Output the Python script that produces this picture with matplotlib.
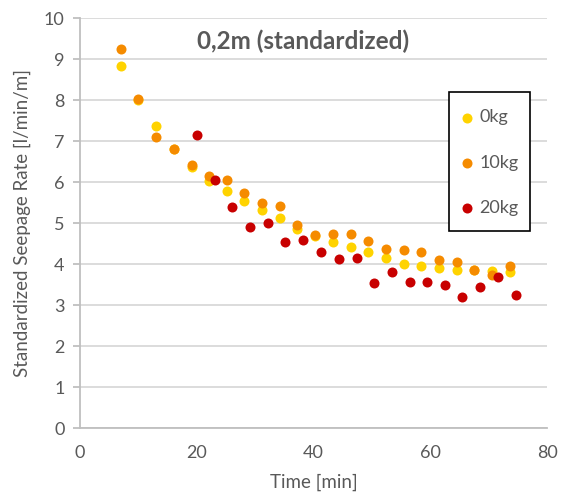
import matplotlib
matplotlib.use('Agg')
import matplotlib.pyplot as plt
from matplotlib.patches import Rectangle

plt.rcParams['font.family'] = ['Lato', 'DejaVu Sans']

# data
time_0kg = [6.95, 9.98, 13.07, 16.09, 19.13, 22.16, 25.18, 28.16, 31.18, 34.22, 37.25, 40.27,
            43.3, 46.35, 49.37, 52.4, 55.44, 58.46, 61.49, 64.53, 67.5, 70.58, 73.62]
rate_0kg = [8.84, 8.0, 7.37, 6.82, 6.38, 6.03, 5.78, 5.55, 5.32, 5.13, 4.85, 4.68,
            4.54, 4.43, 4.29, 4.15, 4.01, 3.96, 3.90, 3.85, 3.85, 3.84, 3.82]
time_10kg = time_0kg
rate_10kg = [9.24, 8.03, 7.10, 6.82, 6.41, 6.16, 6.05, 5.75, 5.50, 5.41, 4.96, 4.72,
             4.74, 4.74, 4.58, 4.37, 4.36, 4.29, 4.10, 4.06, 3.86, 3.73, 3.95]
time_20kg = [20.03, 23.07, 26.1, 29.12, 32.16, 35.2, 38.28, 41.3, 44.34, 47.38, 50.39,
             53.43, 56.47, 59.43, 62.47, 65.49, 68.52, 71.61, 74.65]
rate_20kg = [7.15, 6.06, 5.39, 4.90, 5.00, 4.54, 4.60, 4.30, 4.12, 4.15, 3.55,
             3.81, 3.57, 3.57, 3.50, 3.20, 3.45, 3.68, 3.25]

labels = ['0kg', '10kg', '20kg']
colors = ['#FFD300', '#F58B00', '#C80000']

text_color = '#595959'
fontsize = 13
label_fontsize = 13.5

fig = plt.figure(figsize=(5.69, 5.01), dpi=100)
ax = fig.add_axes([80 / 569, 1 - 428.3 / 501, 467 / 569, 410 / 501])

series = [(time_0kg, rate_0kg), (time_10kg, rate_10kg), (time_20kg, rate_20kg)]
for (x, y), lab, col in zip(series, labels, colors):
    ax.scatter(x, y, s=52, color=col, label=lab, linewidths=0, zorder=3)

ax.set_xlim(0, 80)
ax.set_ylim(0, 10)
ax.set_xticks(range(0, 81, 20))
ax.set_yticks(range(0, 11))
ax.grid(axis='y', color='#D9D9D9', linewidth=1.3)
ax.set_axisbelow(True)
for side in ['top', 'right']:
    ax.spines[side].set_visible(False)
for side in ['left', 'bottom']:
    ax.spines[side].set_color('#BFBFBF')
    ax.spines[side].set_linewidth(1.3)
ax.tick_params(axis='y', length=5, color='#BFBFBF', width=1.3, labelsize=fontsize,
               labelcolor=text_color, pad=6)
ax.tick_params(axis='x', length=0, labelsize=fontsize, labelcolor=text_color, pad=12)

ax.set_xlabel('Time [min]', fontsize=label_fontsize, color=text_color, labelpad=9)
ax.set_ylabel('Standardized Seepage Rate [l/min/m]', fontsize=label_fontsize,
              color=text_color, labelpad=9)

fig.text(303 / 569, 1 - 41 / 501, '0,2m (standardized)', ha='center', va='center',
         fontsize=17.5, fontweight='bold', color=text_color)

# legend box drawn by hand so the padding matches the original
ax.add_patch(Rectangle((0.791, 0.481), 0.172, 0.340, transform=ax.transAxes,
                       facecolor='white', edgecolor='black', linewidth=1.2, zorder=4))
leg = ax.legend(loc='upper left', bbox_to_anchor=(0.813, 0.778), fontsize=fontsize,
                labelcolor=text_color, frameon=False, borderpad=0, borderaxespad=0,
                labelspacing=1.62, handletextpad=0.3, handlelength=0.8)
leg.set_zorder(5)

fig.savefig('out.png', dpi=100)
